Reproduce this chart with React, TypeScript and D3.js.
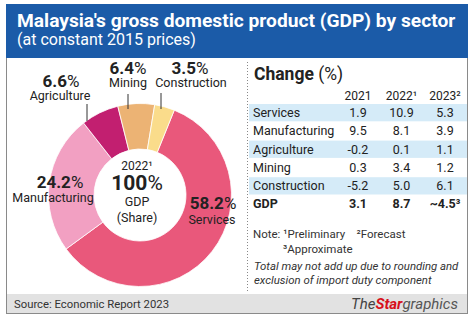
import React from "react";
import * as d3 from "d3";

const sectors = ["Services", "Manufacturing", "Agriculture", "Mining", "Construction"];
const shares = [58.2, 24.2, 6.6, 6.4, 3.5];
const sliceColors = ["#e9587b", "#f2a0c2", "#c21f70", "#ecb374", "#fadc8b"];

const years = ["2021", "2022", "2023"];
const yearSup = ["", "¹", "²"];
const change2021 = ["1.9", "9.5", "-0.2", "0.3", "-5.2"];
const change2022 = ["10.9", "8.1", "0.1", "3.4", "5.0"];
const change2023 = ["5.3", "3.9", "1.1", "1.2", "6.1"];
const gdpRow = ["3.1", "8.7", "~4.5"];

const FONT = "Roboto, 'Noto Sans', sans-serif";

export default function App() {
  const cx = 140, cy = 195, rOut = 91.5, rIn = 46;
  const pie = d3.pie<number>().sort(null).value((d) => d)
    .startAngle((22 * Math.PI) / 180)
    .endAngle((22 * Math.PI) / 180 + 2 * Math.PI);
  const arcs = pie(shares);
  const arcGen = d3.arc<d3.PieArcDatum<number>>().innerRadius(rIn).outerRadius(rOut);

  const colX = d3.scalePoint<string>().domain(years).range([358, 445]);
  const rowY = d3.scaleBand<number>().domain(d3.range(6)).range([104, 104 + 18.3 * 6]);
  const cols = [change2021, change2022, change2023];

  const pctLabel = (x: number, y: number, v: number) => (
    <text x={x} y={y} textAnchor="middle" fontSize={17} fill="#222">
      <tspan fontWeight="bold">{v.toFixed(1)}</tspan>
      <tspan>%</tspan>
    </text>
  );
  const nameLabel = (x: number, y: number, s: string) => (
    <text x={x} y={y} textAnchor="middle" fontSize={12.5} fill="#222">{s}</text>
  );

  return (
    <svg width={474} height={325} style={{ position: "absolute", left: 0, top: 0 }} fontFamily={FONT}>
      <rect x={0} y={0} width={474} height={325} fill="#fff" />
      {/* frame */}
      <rect x={6.5} y={4.5} width={461} height={309} fill="#fff" stroke="#8a8a8a" strokeWidth={1} />
      {/* header */}
      <rect x={6} y={4} width={462} height={54} fill="#1b5ba8" />
      <text x={17} y={27} fill="#fff" fontSize={19.2} fontWeight="bold">
        Malaysia's gross domestic product (GDP) by sector
      </text>
      <text x={17} y={45} fill="#fff" fontSize={16}>(at constant 2015 prices)</text>

      {/* footer */}
      <rect x={7} y={294} width={460} height={19} fill="#e2e2e2" />
      <text x={14} y={307.5} fontSize={11.3} fill="#333">Source: Economic Report 2023</text>
      <text x={458} y={309} textAnchor="end" fontSize={15} fontStyle="italic">
        <tspan fill="#444">The</tspan>
        <tspan fill="#d7111b" fontWeight="bold">Star</tspan>
        <tspan fill="#555">graphics</tspan>
      </text>

      {/* donut */}
      <g transform={`translate(${cx},${cy})`}>
        {arcs.map((a, i) => (
          <path key={sectors[i]} d={arcGen(a) || ""} fill={sliceColors[i]} stroke="#fff" strokeWidth={0.8} />
        ))}
      </g>
      {/* leader lines */}
      <line x1={87} y1={104} x2={87} y2={121} stroke="#333" strokeWidth={1} />
      <line x1={128} y1={94} x2={128} y2={109} stroke="#333" strokeWidth={1} />
      <line x1={161} y1={93} x2={161} y2={109} stroke="#333" strokeWidth={1} />

      {/* slice labels */}
      {pctLabel(61, 87, shares[2])}
      {nameLabel(60, 99.5, sectors[2])}
      {pctLabel(128, 74, shares[3])}
      {nameLabel(128, 87, sectors[3])}
      {pctLabel(190, 74, shares[4])}
      {nameLabel(191, 87, sectors[4])}
      {pctLabel(60, 188, shares[1])}
      {nameLabel(53, 202, sectors[1])}
      {pctLabel(213, 209, shares[0])}
      {nameLabel(212, 224, sectors[0])}

      {/* centre */}
      <text x={137} y={170} textAnchor="middle" fontSize={12} fill="#222">2022¹</text>
      <text x={137} y={190} textAnchor="middle" fontSize={21} fill="#222">
        <tspan fontWeight="bold">100</tspan><tspan>%</tspan>
      </text>
      <text x={137} y={206} textAnchor="middle" fontSize={12.5} fill="#222">GDP</text>
      <text x={137} y={222} textAnchor="middle" fontSize={12.5} fill="#222">(Share)</text>

      {/* divider */}
      <line x1={247.5} y1={62} x2={247.5} y2={292} stroke="#888" strokeWidth={1} strokeDasharray="1,2" />

      {/* table */}
      <text x={254} y={80} fontSize={17.5} fill="#222">
        <tspan fontWeight="bold">Change</tspan><tspan> (%)</tspan>
      </text>
      {years.map((y, i) => (
        <text key={y} x={colX(y)} y={100} textAnchor="middle" fontSize={12} fill="#222">
          {y}{yearSup[i]}
        </text>
      ))}
      {sectors.map((s, r) => (
        <g key={s}>
          {r % 2 === 0 && (
            <rect x={249} y={rowY(r)} width={218} height={rowY.bandwidth() - 1} fill="#d5ebf8" />
          )}
          <text x={253} y={(rowY(r) || 0) + 13} fontSize={12.5} fill="#222">{s}</text>
          {cols.map((c, ci) => (
            <text key={ci} x={colX(years[ci])} y={(rowY(r) || 0) + 13} textAnchor="middle" fontSize={12.5} fill="#222">
              {c[r]}
            </text>
          ))}
        </g>
      ))}
      <text x={253} y={208} fontSize={12.5} fontWeight="bold" fill="#222">GDP</text>
      {gdpRow.map((v, ci) => (
        <text key={ci} x={colX(years[ci])} y={208} textAnchor="middle" fontSize={12.5} fontWeight="bold" fill="#222">
          {v}{ci === 2 ? "³" : ""}
        </text>
      ))}

      {/* notes */}
      <text x={253} y={238} fontSize={11.5} fill="#333" xmlSpace="preserve">Note: ¹Preliminary    ²Forecast</text>
      <text x={283} y={253} fontSize={11.5} fill="#333">³Approximate</text>
      <text x={254} y={270} fontSize={11.4} fontStyle="italic" fill="#333">Total may not add up due to rounding and</text>
      <text x={254} y={284} fontSize={11.4} fontStyle="italic" fill="#333">exclusion of import duty component</text>
    </svg>
  );
}
